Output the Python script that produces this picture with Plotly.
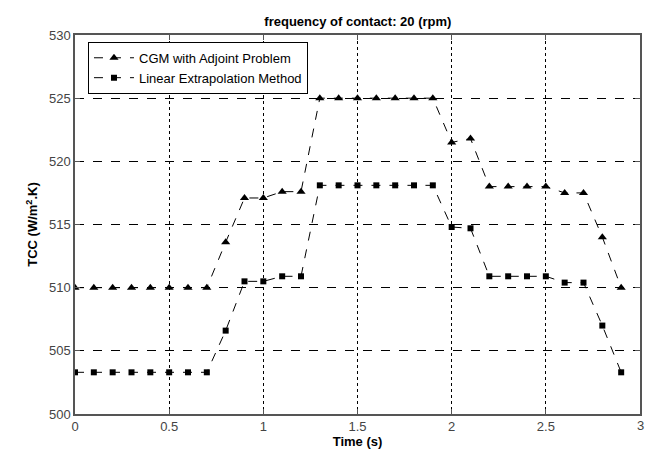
import plotly.graph_objects as go

time_s = [0.0, 0.1, 0.2, 0.3, 0.4, 0.5, 0.6, 0.7, 0.8, 0.9, 1.0, 1.1, 1.2, 1.3, 1.4,
          1.5, 1.6, 1.7, 1.8, 1.9, 2.0, 2.1, 2.2, 2.3, 2.4, 2.5, 2.6, 2.7, 2.8, 2.9]
cgm_adjoint = [510.0, 510.0, 510.0, 510.0, 510.0, 510.0, 510.0, 510.0, 513.6, 517.1,
               517.1, 517.6, 517.6, 525.0, 525.0, 525.0, 525.0, 525.0, 525.0, 525.0,
               521.5, 521.8, 518.0, 518.0, 518.0, 518.0, 517.5, 517.5, 514.0, 510.0]
linear_extrap = [503.3, 503.3, 503.3, 503.3, 503.3, 503.3, 503.3, 503.3, 506.6, 510.5,
                 510.5, 510.9, 510.9, 518.1, 518.1, 518.1, 518.1, 518.1, 518.1, 518.1,
                 514.8, 514.7, 510.9, 510.9, 510.9, 510.9, 510.4, 510.4, 507.0, 503.3]
series_names = ["CGM with Adjoint Problem", "Linear Extrapolation Method"]
x_ticks = [0, 0.5, 1, 1.5, 2, 2.5, 3]
x_tick_labels = ["0", "0.5", "1", "1.5", "2", "2.5", "3"]
y_ticks = [500, 505, 510, 515, 520, 525, 530]

tick_font = dict(family="Liberation Sans, Arial", size=13, color="#444")

fig = go.Figure()
fig.add_trace(go.Scatter(
    x=time_s, y=cgm_adjoint, name=series_names[0], mode="lines+markers",
    line=dict(color="black", width=1, dash="dash"),
    marker=dict(symbol="triangle-up", size=8, color="black"),
))
fig.add_trace(go.Scatter(
    x=time_s, y=linear_extrap, name=series_names[1], mode="lines+markers",
    line=dict(color="black", width=1, dash="dash"),
    marker=dict(symbol="square", size=6, color="black"),
))

axis_common = dict(
    showline=True, linecolor="#555", linewidth=1.5, mirror="ticks",
    ticks="inside", ticklen=5, tickcolor="#555",
    showgrid=True, gridcolor="black", gridwidth=1, zeroline=False,
    automargin=False, ticklabeloverflow="allow",
    tickfont=tick_font,
)

# the last x label sits on the page edge (cut, as in the reference); Plotly drops
# edge-overflowing tick labels, so it is placed as an annotation at x = 3
fig.update_xaxes(range=[0, 3], tickvals=x_ticks,
                 ticktext=x_tick_labels[:-1] + [""],
                 griddash="dot",
                 title=dict(text="<b>Time (s)</b>", standoff=4,
                            font=dict(family="Liberation Sans, Arial", size=13, color="black")),
                 **axis_common)
fig.update_yaxes(range=[500, 530], tickvals=y_ticks, griddash="dash",
                 title=dict(text="<b>TCC (W/m<sup>2</sup>.K)</b>", standoff=8,
                            font=dict(family="Liberation Sans, Arial", size=13, color="black")),
                 **axis_common)

fig.add_annotation(x=x_ticks[-1], xref="x", y=0, yref="paper", yanchor="top",
                   yshift=-2, text=x_tick_labels[-1], showarrow=False,
                   font=tick_font)

fig.update_layout(
    width=646, height=456,
    margin=dict(l=75, r=6, t=35, b=42),
    paper_bgcolor="white", plot_bgcolor="white",
    title=dict(text="<b>frequency of contact: 20 (rpm)</b>", x=0.554, xanchor="center",
               y=0.954, yanchor="middle",
               font=dict(family="Liberation Sans, Arial", size=13, color="black")),
    legend=dict(x=0.023, y=0.982, xanchor="left", yanchor="top",
                bgcolor="white", bordercolor="black", borderwidth=1,
                font=dict(family="Liberation Sans, Arial", size=13, color="black"),
                tracegroupgap=0, itemwidth=40),
    showlegend=True,
)

fig.write_html("out.html", config={"displayModeBar": False},
               post_script="document.body.style.margin='0';document.body.style.overflow='hidden';")
